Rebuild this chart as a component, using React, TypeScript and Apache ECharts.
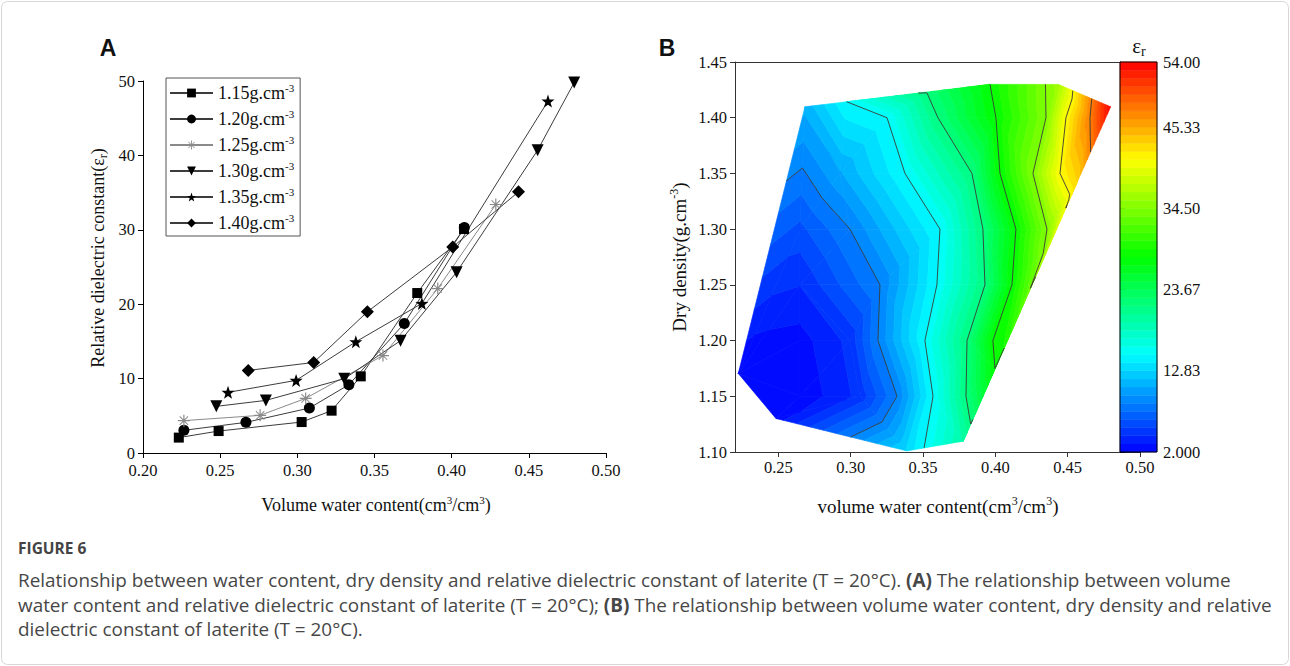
import React, { useEffect, useRef } from 'react';
import * as echarts from 'echarts';

// ---------------- Panel A data (volume water content vs relative dielectric constant) ----------------
const densityLabels = ['1.15', '1.20', '1.25', '1.30', '1.35', '1.40'];
const wc115 = [0.2232, 0.249, 0.3028, 0.3222, 0.3411, 0.3777, 0.408];
const eps115 = [2.07, 2.95, 4.16, 5.69, 10.3, 21.5, 30.1];
const wc120 = [0.2265, 0.2667, 0.3078, 0.3334, 0.3693, 0.4082];
const eps120 = [3.05, 4.12, 6.04, 9.18, 17.4, 30.3];
const wc125 = [0.2265, 0.2759, 0.3054, 0.3555, 0.391, 0.4286];
const eps125 = [4.35, 5.06, 7.34, 13.1, 22.1, 33.4];
const wc130 = [0.2475, 0.2796, 0.3304, 0.3669, 0.4032, 0.4557, 0.4794];
const eps130 = [6.27, 7.07, 9.98, 15.1, 24.3, 40.7, 49.8];
const wc135 = [0.2551, 0.2992, 0.3379, 0.3807, 0.4624];
const eps135 = [8.15, 9.76, 14.95, 20.1, 47.3];
const wc140 = [0.2682, 0.3106, 0.3454, 0.4007, 0.4433];
const eps140 = [11.1, 12.17, 18.98, 27.7, 35.1];

// ---------------- Panel B data (scattered XYZ: water content, dry density, dielectric constant) ----------------
const contourWC = [
  0.2223, 0.2483, 0.3387, 0.3778, 0.3997, 0.4331, 0.4562, 0.4797, 0.4435, 0.3963, 0.3527, 0.2972, 0.2684,
  0.3251, 0.3603, 0.4004, 0.435, 0.4488, 0.4654,
  0.2926, 0.3375, 0.3838, 0.4032, 0.426, 0.4447,
  0.2649, 0.2995, 0.3617, 0.3914, 0.4142, 0.4357,
  0.2649, 0.3202, 0.3596, 0.3928, 0.4115,
  0.2649, 0.2995, 0.3188, 0.3513, 0.3804, 0.3983,
  0.2649, 0.3064, 0.332, 0.3569, 0.3797,
];
const contourDD = [
  1.1705, 1.1301, 1.101, 1.1097, 1.175, 1.2782, 1.341, 1.4098, 1.4299, 1.4299, 1.4223, 1.4143, 1.4098,
  1.4, 1.4, 1.4, 1.4, 1.4, 1.4,
  1.35, 1.35, 1.35, 1.35, 1.35, 1.35,
  1.3, 1.3, 1.3, 1.3, 1.3, 1.3,
  1.25, 1.25, 1.25, 1.25, 1.25,
  1.2, 1.2, 1.2, 1.2, 1.2, 1.2,
  1.15, 1.15, 1.15, 1.15, 1.15,
];
const contourEps = [
  2.0, 2.5, 13.0, 19.5, 28.0, 34.5, 43.0, 54.0, 36.0, 28.0, 21.5, 15.0, 11.0,
  15, 21.5, 28, 34.5, 41, 47.5,
  10.5, 15, 21.5, 28, 34.5, 41,
  6.0, 8.5, 15, 21.5, 28, 34.5,
  4.2, 8.5, 15, 21.5, 28,
  2.6, 4.5, 8.5, 15, 21.5, 28,
  2.2, 4.5, 8.5, 15, 21.5,
];

// colour scale
const CB_MIN = 2;
const CB_MAX = 54;
const N_BANDS = 48;
const cbTickValues = [2, 12.833, 23.667, 34.5, 45.333, 54];
const contourLevels = [8.5, 15, 21.5, 28, 34.5, 41, 47.5];
const cmapStops = [2, 15, 28, 41, 54];
const cmapRGB = [
  [0, 0, 255],
  [0, 255, 255],
  [0, 255, 0],
  [255, 255, 0],
  [255, 0, 0],
];
const xTicksB = [0.25, 0.3, 0.35, 0.4, 0.45, 0.5];

const SERIF = 'Liberation Serif';

function cmap(v: number) {
  let i = 0;
  while (i < cmapStops.length - 2 && v > cmapStops[i + 1]) i++;
  const t = Math.max(0, Math.min(1, (v - cmapStops[i]) / (cmapStops[i + 1] - cmapStops[i])));
  const a = cmapRGB[i];
  const b = cmapRGB[i + 1];
  const c = [0, 1, 2].map((k) => Math.round(a[k] + (b[k] - a[k]) * t));
  return `rgb(${c[0]},${c[1]},${c[2]})`;
}

const bandEdges: number[] = [];
for (let k = 0; k <= N_BANDS; k++) bandEdges.push(CB_MIN + (k * (CB_MAX - CB_MIN)) / N_BANDS);

// Delaunay triangulation (Bowyer-Watson)
function delaunay(xs: number[], ys: number[]) {
  const n = xs.length;
  const P: number[][] = xs.map((x, i) => [x, ys[i]]);
  let minX = Infinity, minY = Infinity, maxX = -Infinity, maxY = -Infinity;
  for (const [x, y] of P) {
    minX = Math.min(minX, x); maxX = Math.max(maxX, x);
    minY = Math.min(minY, y); maxY = Math.max(maxY, y);
  }
  const d = Math.max(maxX - minX, maxY - minY);
  const cx = (minX + maxX) / 2;
  const cy = (minY + maxY) / 2;
  const M = 200 * d;
  P.push([cx - M, cy - M], [cx, cy + M], [cx + M, cy - M]);
  const mk = (a: number, b: number, c: number) => {
    const [ax, ay] = P[a];
    const [bx, by] = P[b];
    const [qx, qy] = P[c];
    const D = 2 * (ax * (by - qy) + bx * (qy - ay) + qx * (ay - by));
    const a2 = ax * ax + ay * ay;
    const b2 = bx * bx + by * by;
    const c2 = qx * qx + qy * qy;
    const ux = (a2 * (by - qy) + b2 * (qy - ay) + c2 * (ay - by)) / D;
    const uy = (a2 * (qx - bx) + b2 * (ax - qx) + c2 * (bx - ax)) / D;
    return { a, b, c, ux, uy, r2: (ax - ux) ** 2 + (ay - uy) ** 2 };
  };
  let tris = [mk(n, n + 1, n + 2)];
  for (let i = 0; i < n; i++) {
    const [x, y] = P[i];
    const bad: any[] = [];
    const good: any[] = [];
    for (const t of tris) {
      const dx = x - t.ux;
      const dy = y - t.uy;
      if (dx * dx + dy * dy < t.r2) bad.push(t);
      else good.push(t);
    }
    const edges: number[][] = [];
    for (const t of bad) {
      for (const [e0, e1] of [[t.a, t.b], [t.b, t.c], [t.c, t.a]]) {
        const idx = edges.findIndex((e) => (e[0] === e1 && e[1] === e0) || (e[0] === e0 && e[1] === e1));
        if (idx >= 0) edges.splice(idx, 1);
        else edges.push([e0, e1]);
      }
    }
    tris = good;
    for (const [e0, e1] of edges) tris.push(mk(e0, e1, i));
  }
  return tris.filter((t) => t.a < n && t.b < n && t.c < n).map((t) => [t.a, t.b, t.c]);
}

const triangles = delaunay(
  contourWC.map((w) => (w - 0.22) * 1446.7),
  contourDD.map((d) => (d - 1.1) * 1114)
);
const triData = triangles.map((t) => {
  const row: number[] = [];
  for (const i of t) row.push(contourWC[i], contourDD[i], contourEps[i]);
  return row;
});

function clip(poly: any[], level: number, above: boolean) {
  const out: any[] = [];
  for (let i = 0; i < poly.length; i++) {
    const a = poly[i];
    const b = poly[(i + 1) % poly.length];
    const ina = above ? a.v >= level : a.v <= level;
    const inb = above ? b.v >= level : b.v <= level;
    if (ina) out.push(a);
    if (ina !== inb) {
      const t = (level - a.v) / (b.v - a.v);
      out.push({ x: a.x + t * (b.x - a.x), y: a.y + t * (b.y - a.y), v: level });
    }
  }
  return out;
}

function triPoints(api: any) {
  return [0, 1, 2].map((k) => {
    const c = api.coord([api.value(3 * k), api.value(3 * k + 1)]);
    return { x: c[0], y: c[1], v: api.value(3 * k + 2) };
  });
}

const renderFill = (params: any, api: any) => {
  const pts = triPoints(api);
  const vmin = Math.min(pts[0].v, pts[1].v, pts[2].v);
  const vmax = Math.max(pts[0].v, pts[1].v, pts[2].v);
  const children: any[] = [];
  for (let b = 0; b < N_BANDS; b++) {
    const lo = bandEdges[b];
    const hi = bandEdges[b + 1];
    if (hi < vmin || lo > vmax) continue;
    let poly = clip(pts, lo, true);
    if (poly.length < 3) continue;
    poly = clip(poly, hi, false);
    if (poly.length < 3) continue;
    const col = cmap((lo + hi) / 2);
    children.push({
      type: 'polygon',
      shape: { points: poly.map((p) => [p.x, p.y]) },
      style: { fill: col, stroke: col, lineWidth: 0.7 },
    });
  }
  return { type: 'group', children };
};

const renderLines = (params: any, api: any) => {
  const pts = triPoints(api);
  const children: any[] = [];
  for (const c of contourLevels) {
    const cross: number[][] = [];
    for (let i = 0; i < 3; i++) {
      const a = pts[i];
      const b = pts[(i + 1) % 3];
      if ((a.v >= c) !== (b.v >= c)) {
        const t = (c - a.v) / (b.v - a.v);
        cross.push([a.x + t * (b.x - a.x), a.y + t * (b.y - a.y)]);
      }
    }
    if (cross.length === 2) {
      children.push({
        type: 'line',
        shape: { x1: cross[0][0], y1: cross[0][1], x2: cross[1][0], y2: cross[1][1] },
        style: { stroke: '#3a3a3a', lineWidth: 0.9 },
      });
    }
  }
  return { type: 'group', children };
};

const cbData = bandEdges.slice(0, N_BANDS).map((lo, k) => [0, lo, bandEdges[k + 1]]);
const renderColorbar = (params: any, api: any) => {
  const p0 = api.coord([0, api.value(1)]);
  const p1 = api.coord([1, api.value(2)]);
  const col = cmap((api.value(1) + api.value(2)) / 2);
  return {
    type: 'rect',
    shape: { x: p0[0], y: p1[1], width: p1[0] - p0[0], height: p0[1] - p1[1] },
    style: { fill: col, stroke: col, lineWidth: 0.5 },
  };
};

// ---------------- symbols ----------------
const ASTERISK =
  'path://M4.5 0L5.5 0L5.5 10L4.5 10Z M0 4.5L10 4.5L10 5.5L0 5.5Z M1.22 1.78L1.78 1.22L8.78 8.22L8.22 8.78Z M8.22 1.22L8.78 1.78L1.78 8.78L1.22 8.22Z';
const STAR = 'path://M5 0L6.18 3.38L9.76 3.45L6.9 5.62L7.94 9.05L5 7L2.06 9.05L3.1 5.62L0.24 3.45L3.82 3.38Z';
const TRI_DOWN = 'path://M0 0L10 0L5 9Z';

const seriesDefs = [
  { name: densityLabels[0], wc: wc115, eps: eps115, symbol: 'rect', size: 10, color: '#000', line: '#3c3c3c' },
  { name: densityLabels[1], wc: wc120, eps: eps120, symbol: 'circle', size: 11, color: '#000', line: '#3c3c3c' },
  { name: densityLabels[2], wc: wc125, eps: eps125, symbol: ASTERISK, size: 12, color: '#8a8a8a', line: '#8a8a8a' },
  { name: densityLabels[3], wc: wc130, eps: eps130, symbol: TRI_DOWN, size: 12, color: '#000', line: '#3c3c3c' },
  { name: densityLabels[4], wc: wc135, eps: eps135, symbol: STAR, size: 13, color: '#000', line: '#3c3c3c' },
  { name: densityLabels[5], wc: wc140, eps: eps140, symbol: 'diamond', size: 13, color: '#000', line: '#3c3c3c' },
];

const richText = (size: number, color = '#111') => ({
  n: { fontFamily: SERIF, fontSize: size, lineHeight: size + 4, fill: color, color },
  sup: {
    fontFamily: SERIF,
    fontSize: Math.round(size * 0.62),
    lineHeight: Math.round(size * 0.62) + 1,
    verticalAlign: 'top',
    fill: color,
    color,
  },
  sub: {
    fontFamily: SERIF,
    fontSize: Math.round(size * 0.66),
    lineHeight: Math.round(size * 0.66) + 1,
    verticalAlign: 'bottom',
    fill: color,
    color,
  },
});

const tickLabel = { fontFamily: SERIF, fontSize: 16.5, color: '#111' };
const CAP_FONT = '"Open Sans"';
const CAP_SIZE = 18.9;
const capRich = {
  r: { fontFamily: CAP_FONT, fontSize: CAP_SIZE, fill: '#474747' },
  b: { fontFamily: CAP_FONT, fontSize: CAP_SIZE, fontWeight: 'bold', fill: '#474747' },
};

function buildOption() {
  const lineSeries = seriesDefs.map((s) => ({
    type: 'line',
    name: s.name,
    xAxisIndex: 0,
    yAxisIndex: 0,
    data: s.wc.map((w, i) => [w, s.eps[i]]),
    symbol: s.symbol,
    symbolSize: s.size,
    showSymbol: true,
    lineStyle: { color: s.line, width: 1 },
    itemStyle: { color: s.color, borderWidth: 0 },
    emphasis: { disabled: true },
    z: 3,
  }));

  return {
    animation: false,
    backgroundColor: '#fff',
    grid: [
      { left: 143, top: 81, width: 463, height: 372 },
      { left: 735, top: 62, width: 405, height: 390 },
      { left: 1120, top: 62, width: 37, height: 390, show: true, borderColor: '#000', borderWidth: 1, backgroundColor: 'transparent', z: 10 },
    ],
    legend: {
      data: densityLabels,
      orient: 'vertical',
      left: 166,
      top: 78,
      itemWidth: 43,
      itemHeight: 11,
      itemGap: 6,
      padding: [4, 6, 4, 3],
      borderColor: '#555',
      borderWidth: 1,
      formatter: (name: string) => `{n|${name}g.cm}{sup|-3}`,
      textStyle: { rich: richText(18, '#111') },
    },
    xAxis: [
      {
        gridIndex: 0,
        type: 'value',
        min: 0.2,
        max: 0.5,
        interval: 0.05,
        axisLine: { lineStyle: { color: '#000', width: 1 } },
        axisTick: { inside: false, length: 5, lineStyle: { color: '#000' } },
        axisLabel: { ...tickLabel, margin: 9, formatter: (v: number) => v.toFixed(2) },
        splitLine: { show: false },
      },
      {
        gridIndex: 1,
        type: 'value',
        min: 0.22,
        max: 0.5,
        axisLine: { lineStyle: { color: '#333', width: 1 } },
        axisTick: { inside: false, length: 5, customValues: xTicksB, lineStyle: { color: '#333' } },
        axisLabel: { ...tickLabel, margin: 7, customValues: xTicksB, formatter: (v: number) => v.toFixed(2) },
        splitLine: { show: false },
      },
      { gridIndex: 2, type: 'value', min: 0, max: 1, show: false },
      {
        gridIndex: 1,
        type: 'value',
        position: 'top',
        min: 0.22,
        max: 0.5,
        axisLine: { show: true, lineStyle: { color: '#333', width: 1 } },
        axisTick: { show: false },
        axisLabel: { show: false },
        splitLine: { show: false },
      },
    ],
    yAxis: [
      {
        gridIndex: 0,
        type: 'value',
        min: 0,
        max: 50,
        interval: 10,
        axisLine: { show: true, lineStyle: { color: '#000', width: 1 } },
        axisTick: { show: true, inside: false, length: 5, lineStyle: { color: '#000' } },
        axisLabel: { ...tickLabel, margin: 8 },
        splitLine: { show: false },
      },
      {
        gridIndex: 1,
        type: 'value',
        min: 1.1,
        max: 1.45,
        interval: 0.05,
        axisLine: { show: true, lineStyle: { color: '#333', width: 1 } },
        axisTick: { show: true, inside: false, length: 5, lineStyle: { color: '#333' } },
        axisLabel: { ...tickLabel, margin: 8, formatter: (v: number) => v.toFixed(2) },
        splitLine: { show: false },
      },
      {
        gridIndex: 2,
        type: 'value',
        position: 'right',
        min: CB_MIN,
        max: CB_MAX,
        axisLine: { show: true, lineStyle: { color: '#000', width: 1 } },
        axisTick: { show: true, inside: false, length: 5, customValues: cbTickValues, lineStyle: { color: '#000' } },
        axisLabel: { ...tickLabel, margin: 6, customValues: cbTickValues, formatter: (v: number) => Number(v).toPrecision(4) },
        splitLine: { show: false },
      },
    ],
    series: [
      ...lineSeries,
      {
        type: 'custom',
        name: 'fill',
        xAxisIndex: 1,
        yAxisIndex: 1,
        data: triData,
        encode: { x: [0, 3, 6], y: [1, 4, 7] },
        renderItem: renderFill,
        silent: true,
        z: 2,
      },
      {
        type: 'custom',
        name: 'lines',
        xAxisIndex: 1,
        yAxisIndex: 1,
        data: triData,
        encode: { x: [0, 3, 6], y: [1, 4, 7] },
        renderItem: renderLines,
        silent: true,
        z: 4,
      },
      {
        type: 'custom',
        name: 'colorbar',
        xAxisIndex: 2,
        yAxisIndex: 2,
        data: cbData,
        encode: { x: 0, y: [1, 2] },
        renderItem: renderColorbar,
        silent: true,
        z: 2,
      },
    ],
    graphic: [
      {
        type: 'rect',
        shape: { x: 1.5, y: 1.5, width: 1287, height: 663, r: 6 },
        style: { fill: 'none', stroke: '#d6d6d6', lineWidth: 1 },
        silent: true,
      },
      {
        type: 'text',
        x: 108,
        y: 48,
        style: { text: 'A', font: 'bold 23px "Liberation Sans"', fill: '#111', align: 'center', verticalAlign: 'middle' },
      },
      {
        type: 'text',
        x: 667,
        y: 48,
        style: { text: 'B', font: 'bold 23px "Liberation Sans"', fill: '#111', align: 'center', verticalAlign: 'middle' },
      },
      {
        type: 'text',
        x: 98,
        y: 258,
        rotation: Math.PI / 2,
        style: {
          text: '{n|Relative dielectric constant(ε}{sub|r}{n|)}',
          rich: richText(18),
          align: 'center',
          verticalAlign: 'middle',
        },
      },
      {
        type: 'text',
        x: 376,
        y: 505,
        style: {
          text: '{n|Volume water content(cm}{sup|3}{n|/cm}{sup|3}{n|)}',
          rich: richText(18),
          align: 'center',
          verticalAlign: 'middle',
        },
      },
      {
        type: 'text',
        x: 938,
        y: 506,
        style: {
          text: '{n|volume water content(cm}{sup|3}{n|/cm}{sup|3}{n|)}',
          rich: richText(19),
          align: 'center',
          verticalAlign: 'middle',
        },
      },
      {
        type: 'text',
        x: 679,
        y: 257,
        rotation: Math.PI / 2,
        style: {
          text: '{n|Dry density(g.cm}{sup|-3}{n|)}',
          rich: richText(19),
          align: 'center',
          verticalAlign: 'middle',
        },
      },
      {
        type: 'text',
        x: 1139,
        y: 46,
        style: { text: '{n|ε}{sub|r}', rich: richText(21), align: 'center', verticalAlign: 'middle' },
      },
      {
        type: 'text',
        x: 18,
        y: 548,
        style: { text: 'FIGURE 6', font: 'bold 15.5px "Open Sans"', fill: '#444', align: 'left', verticalAlign: 'middle' },
      },
      {
        type: 'text',
        x: 18,
        y: 580,
        style: {
          text: '{r|Relationship between water content, dry density and relative dielectric constant of laterite (T = 20°C). }{b|(A)}{r| The relationship between volume}',
          rich: capRich,
          align: 'left',
          verticalAlign: 'middle',
        },
      },
      {
        type: 'text',
        x: 18,
        y: 605,
        style: {
          text: '{r|water content and relative dielectric constant of laterite (T = 20°C); }{b|(B)}{r| The relationship between volume water content, dry density and relative}',
          rich: capRich,
          align: 'left',
          verticalAlign: 'middle',
        },
      },
      {
        type: 'text',
        x: 18,
        y: 629,
        style: {
          text: '{r|dielectric constant of laterite (T = 20°C).}',
          rich: capRich,
          align: 'left',
          verticalAlign: 'middle',
        },
      },
    ],
  };
}

export default function App() {
  const ref = useRef<HTMLDivElement>(null);
  useEffect(() => {
    if (!ref.current) return;
    const chart = echarts.init(ref.current, undefined, { renderer: 'svg' });
    chart.setOption(buildOption() as any);
    return () => chart.dispose();
  }, []);
  return (
    <div
      ref={ref}
      style={{ position: 'absolute', left: 0, top: 0, width: 1290, height: 666, background: '#fff' }}
    />
  );
}
